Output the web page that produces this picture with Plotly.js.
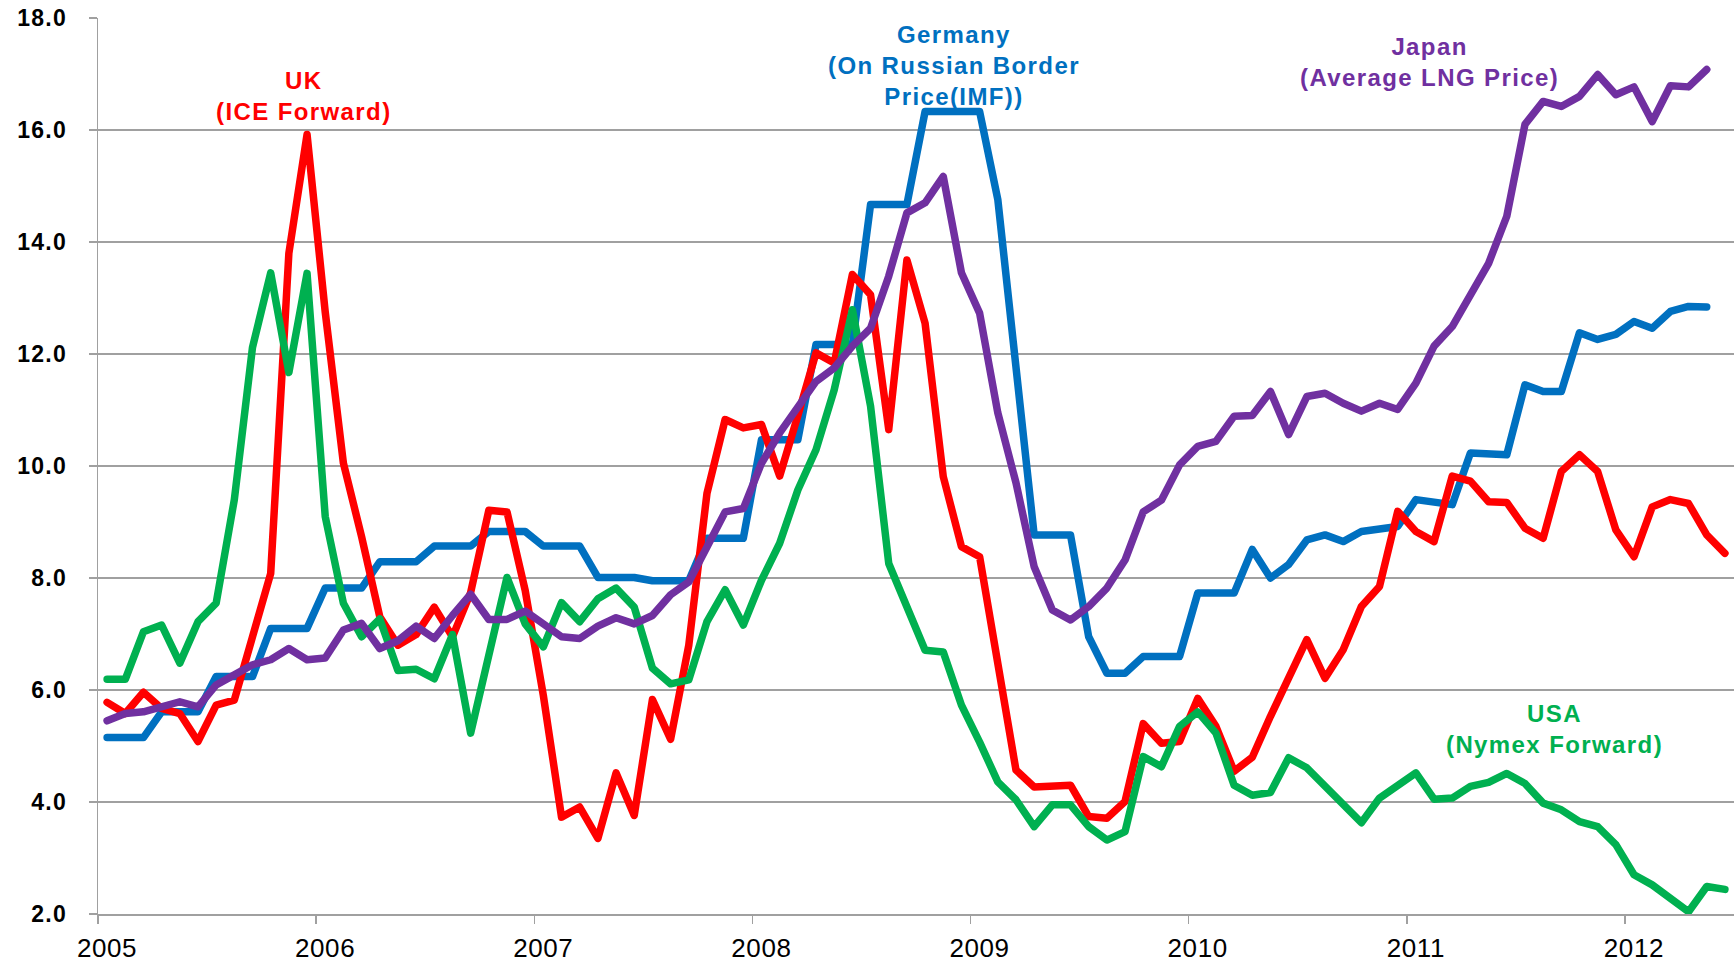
<!DOCTYPE html>
<html>
<head>
<meta charset="utf-8">
<script src="https://cdn.plot.ly/plotly-3.0.1.min.js"></script>
<style>
html,body{margin:0;padding:0;background:#fff;}
#chart{width:1734px;height:960px;}
.scatterlayer .js-line{stroke-linejoin:round !important;stroke-linecap:round !important;}
.annotation-text{letter-spacing:1.4px;}
.ytick text{letter-spacing:1.2px;}
.xtick text{letter-spacing:0.6px;}
</style>
</head>
<body>
<div id="chart"></div>
<script>
// Monthly gas prices (USD/MMBtu), Jan 2005 onward
const startYear = 2005;
const yearTicks = [2005, 2006, 2007, 2008, 2009, 2010, 2011, 2012];
const yTicks = [2, 4, 6, 8, 10, 12, 14, 16, 18];

const uk = [5.78,5.58,5.96,5.67,5.58,5.08,5.73,5.82,6.95,8.08,13.80,15.92,
  12.75,10.05,8.74,7.31,6.80,6.99,7.48,6.95,7.74,9.21,9.18,7.78,
  5.90,3.73,3.91,3.35,4.52,3.76,5.83,5.12,6.80,9.51,10.83,10.68,
  10.74,9.82,10.90,12.02,11.84,13.42,13.06,10.65,13.68,12.55,9.81,8.56,
  8.38,6.55,4.57,4.27,4.27,4.30,3.74,3.71,4.01,5.40,5.05,5.08,
  5.85,5.35,4.55,4.80,5.53,6.24,6.90,6.21,6.72,7.49,7.85,9.19,
  8.83,8.65,9.82,9.73,9.36,9.35,8.89,8.71,9.90,10.20,9.90,8.86,
  8.38,9.27,9.40,9.33,8.77,8.44];

const usa = [6.19,6.19,7.04,7.16,6.48,7.22,7.55,9.40,12.12,13.45,11.67,13.44,
  9.10,7.55,6.95,7.27,6.35,6.37,6.20,6.99,5.23,6.60,8.01,7.18,
  6.77,7.56,7.22,7.63,7.82,7.48,6.39,6.11,6.18,7.22,7.79,7.16,
  7.96,8.62,9.57,10.29,11.36,12.79,11.07,8.26,7.49,6.71,6.68,5.73,
  5.07,4.36,4.04,3.56,3.95,3.95,3.56,3.32,3.47,4.81,4.63,5.35,
  5.61,5.23,4.30,4.12,4.17,4.79,4.61,4.28,3.95,3.63,4.07,4.31,
  4.52,4.05,4.07,4.28,4.35,4.51,4.33,3.98,3.86,3.65,3.56,3.24,
  2.70,2.52,2.29,2.04,2.49,2.44];

const germany = [5.15,5.15,5.15,5.61,5.61,5.61,6.24,6.24,6.24,7.10,7.10,7.10,
  7.82,7.82,7.82,8.29,8.29,8.29,8.57,8.57,8.57,8.83,8.83,8.83,
  8.57,8.57,8.57,8.01,8.01,8.01,7.95,7.95,7.95,8.71,8.71,8.71,
  10.47,10.47,10.47,12.17,12.17,12.17,14.67,14.67,14.67,16.33,16.33,16.33,
  16.33,14.76,11.70,8.77,8.77,8.77,6.95,6.30,6.30,6.60,6.60,6.60,
  7.73,7.73,7.73,8.51,8.00,8.24,8.68,8.77,8.65,8.83,8.89,8.92,
  9.40,9.34,9.31,10.23,10.21,10.20,11.45,11.33,11.33,12.38,12.26,12.35,
  12.58,12.46,12.76,12.85,12.84];

const japan = [5.45,5.58,5.61,5.70,5.79,5.70,6.09,6.27,6.45,6.54,6.74,6.54,
  6.57,7.07,7.19,6.74,6.88,7.14,6.92,7.33,7.71,7.26,7.26,7.41,
  7.18,6.95,6.92,7.14,7.29,7.18,7.33,7.70,7.93,8.56,9.18,9.24,
  10.05,10.59,11.07,11.51,11.75,12.14,12.46,13.39,14.52,14.70,15.17,13.45,
  12.73,10.95,9.70,8.20,7.43,7.25,7.49,7.82,8.32,9.18,9.39,10.02,
  10.35,10.44,10.89,10.90,11.33,10.56,11.24,11.30,11.12,10.98,11.12,11.01,
  11.48,12.14,12.49,13.09,13.62,14.46,16.10,16.51,16.42,16.60,16.99,16.63,
  16.77,16.15,16.79,16.77,17.08];

const labels = {
  uk: 'UK<br>(ICE Forward)',
  germany: 'Germany<br>(On Russian Border<br>Price(IMF))',
  japan: 'Japan<br>(Average LNG Price)',
  usa: 'USA<br>(Nymex Forward)'
};

const colors = {uk:'#FF0000', usa:'#00B050', germany:'#0070C0', japan:'#7030A0'};

// month positions: middle of each month on a decimal-year axis
function monthX(n){ const xs=[]; for(let i=0;i<n;i++){ xs.push(startYear + (i+0.5)/12); } return xs; }

const FONT = 'Liberation Sans, Arial, sans-serif';
const LW = 7.5;
const AXC = '#a0a0a0';

function tr(name, ys){
  return {x: monthX(ys.length), y: ys, type:'scatter', mode:'lines', name:name,
    line:{color:colors[name], width:LW}, hoverinfo:'skip'};
}

const data = [tr('germany', germany), tr('uk', uk), tr('usa', usa), tr('japan', japan)];

function ann(text, x, y, color){
  return {text:text, x:x, y:y, xref:'x', yref:'y', showarrow:false, align:'center',
    xanchor:'center', yanchor:'middle',
    font:{family:FONT, size:24, color:color, weight:'bold'}};
}

const layout = {
  width:1734, height:960,
  margin:{l:98, r:0, t:18, b:46},
  paper_bgcolor:'#ffffff', plot_bgcolor:'#ffffff',
  showlegend:false,
  xaxis:{
    range:[2005, 2012.5], tickvals:yearTicks, ticktext:yearTicks.map(String),
    ticks:'outside', ticklen:8, tickwidth:1.5, tickcolor:AXC,
    showgrid:false, zeroline:false, showline:true, linecolor:AXC, linewidth:1.5,
    tickfont:{family:FONT, size:26, color:'#000000'}, ticklabelstandoff:2, ticklabelshift:9
  },
  yaxis:{
    range:[2, 18], tickvals:yTicks, tickformat:'.1f',
    showgrid:true, gridcolor:AXC, gridwidth:1.5,
    zeroline:false, showline:true, linecolor:AXC, linewidth:1.5,
    ticks:'outside', ticklen:8, tickwidth:1.5, tickcolor:AXC,
    tickfont:{family:FONT, size:23, color:'#000000', weight:'bold'},
    ticklabelstandoff:17
  },
  annotations:[
    ann(labels.uk, 2005.946, 16.61, colors.uk),
    ann(labels.germany, 2008.926, 17.16, colors.germany),
    ann(labels.japan, 2011.103, 17.22, colors.japan),
    ann(labels.usa, 2011.676, 5.31, colors.usa)
  ]
};

Plotly.newPlot('chart', data, layout, {staticPlot:true, displayModeBar:false});
</script>
</body>
</html>
